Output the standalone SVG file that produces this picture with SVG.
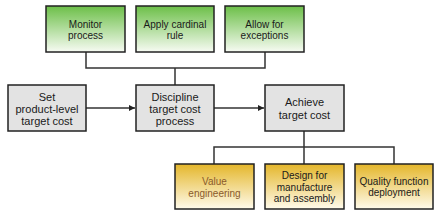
<svg xmlns="http://www.w3.org/2000/svg" width="440" height="216" viewBox="0 0 440 216">
<defs>
<linearGradient id="gGreen" x1="0" y1="0" x2="0" y2="1">
<stop offset="0" stop-color="#6cbf48"/>
<stop offset="1" stop-color="#f7fbf3"/>
</linearGradient>
<linearGradient id="gYellow" x1="0" y1="0" x2="0" y2="1">
<stop offset="0" stop-color="#e4b62a"/>
<stop offset="1" stop-color="#fffbec"/>
</linearGradient>
<marker id="arr" viewBox="0 0 10 10" refX="10" refY="5" markerWidth="6" markerHeight="6" orient="auto" markerUnits="userSpaceOnUse">
<path d="M0,0 L10,5 L0,10 z" fill="#222"/>
</marker>
<style>
.box{stroke:#222;stroke-width:1.5}
.green{fill:url(#gGreen)}
.gray{fill:#e3e3e3}
.yellow{fill:url(#gYellow)}
.t{font-family:"Liberation Sans",Arial,sans-serif;text-anchor:middle;fill:#1a1a1a}
.s10{font-size:10px}
.s11{font-size:11px}
.conn{fill:none;stroke:#333;stroke-width:1.5}
</style>
</defs>
<g id="connectors">
<path class="conn" d="M86,52 V68 H265 V52 M175,68 V85"/>
<line class="conn" x1="86" y1="108" x2="135" y2="108" marker-end="url(#arr)"/>
<line class="conn" x1="214" y1="108" x2="264" y2="108" marker-end="url(#arr)"/>
<path class="conn" d="M304,131 V147 M214,164 V147 H394 V164 M304,147 V164"/>
</g>
<g id="monitor">
<rect class="box green" x="46" y="6" width="79" height="46"/>
<text class="t s10" x="85.5" y="27.5">Monitor</text>
<text class="t s10" x="85.5" y="39">process</text>
</g>
<g id="cardinal">
<rect class="box green" x="136" y="6" width="78" height="46"/>
<text class="t s10" x="175" y="27.5">Apply cardinal</text>
<text class="t s10" x="175" y="39">rule</text>
</g>
<g id="exceptions">
<rect class="box green" x="225" y="6" width="79" height="46"/>
<text class="t s10" x="264.5" y="27.5">Allow for</text>
<text class="t s10" x="264.5" y="39">exceptions</text>
</g>
<g id="set">
<rect class="box gray" x="8" y="85" width="78" height="46"/>
<text class="t s11" x="47" y="101">Set</text>
<text class="t s11" x="47" y="112.5">product-level</text>
<text class="t s11" x="47" y="124.5">target cost</text>
</g>
<g id="discipline">
<rect class="box gray" x="136" y="85" width="78" height="46"/>
<text class="t s11" x="175" y="101">Discipline</text>
<text class="t s11" x="175" y="112.5">target cost</text>
<text class="t s11" x="175" y="124.5">process</text>
</g>
<g id="achieve">
<rect class="box gray" x="265" y="85" width="79" height="46"/>
<text class="t s11" x="304.5" y="106">Achieve</text>
<text class="t s11" x="304.5" y="119">target cost</text>
</g>
<g id="value">
<rect class="box yellow" x="175" y="164" width="79" height="45"/>
<text class="t s10" x="214.5" y="185" style="fill:#8a5a2c">Value</text>
<text class="t s10" x="214.5" y="196.5" style="fill:#8a5a2c">engineering</text>
</g>
<g id="design">
<rect class="box yellow" x="265" y="164" width="79" height="45"/>
<text class="t s10" x="304.5" y="179">Design for</text>
<text class="t s10" x="304.5" y="190.5">manufacture</text>
<text class="t s10" x="304.5" y="201.5">and assembly</text>
</g>
<g id="quality">
<rect class="box yellow" x="355" y="164" width="78" height="45"/>
<text class="t s10" x="394" y="184.5">Quality function</text>
<text class="t s10" x="394" y="196">deployment</text>
</g>
</svg>
